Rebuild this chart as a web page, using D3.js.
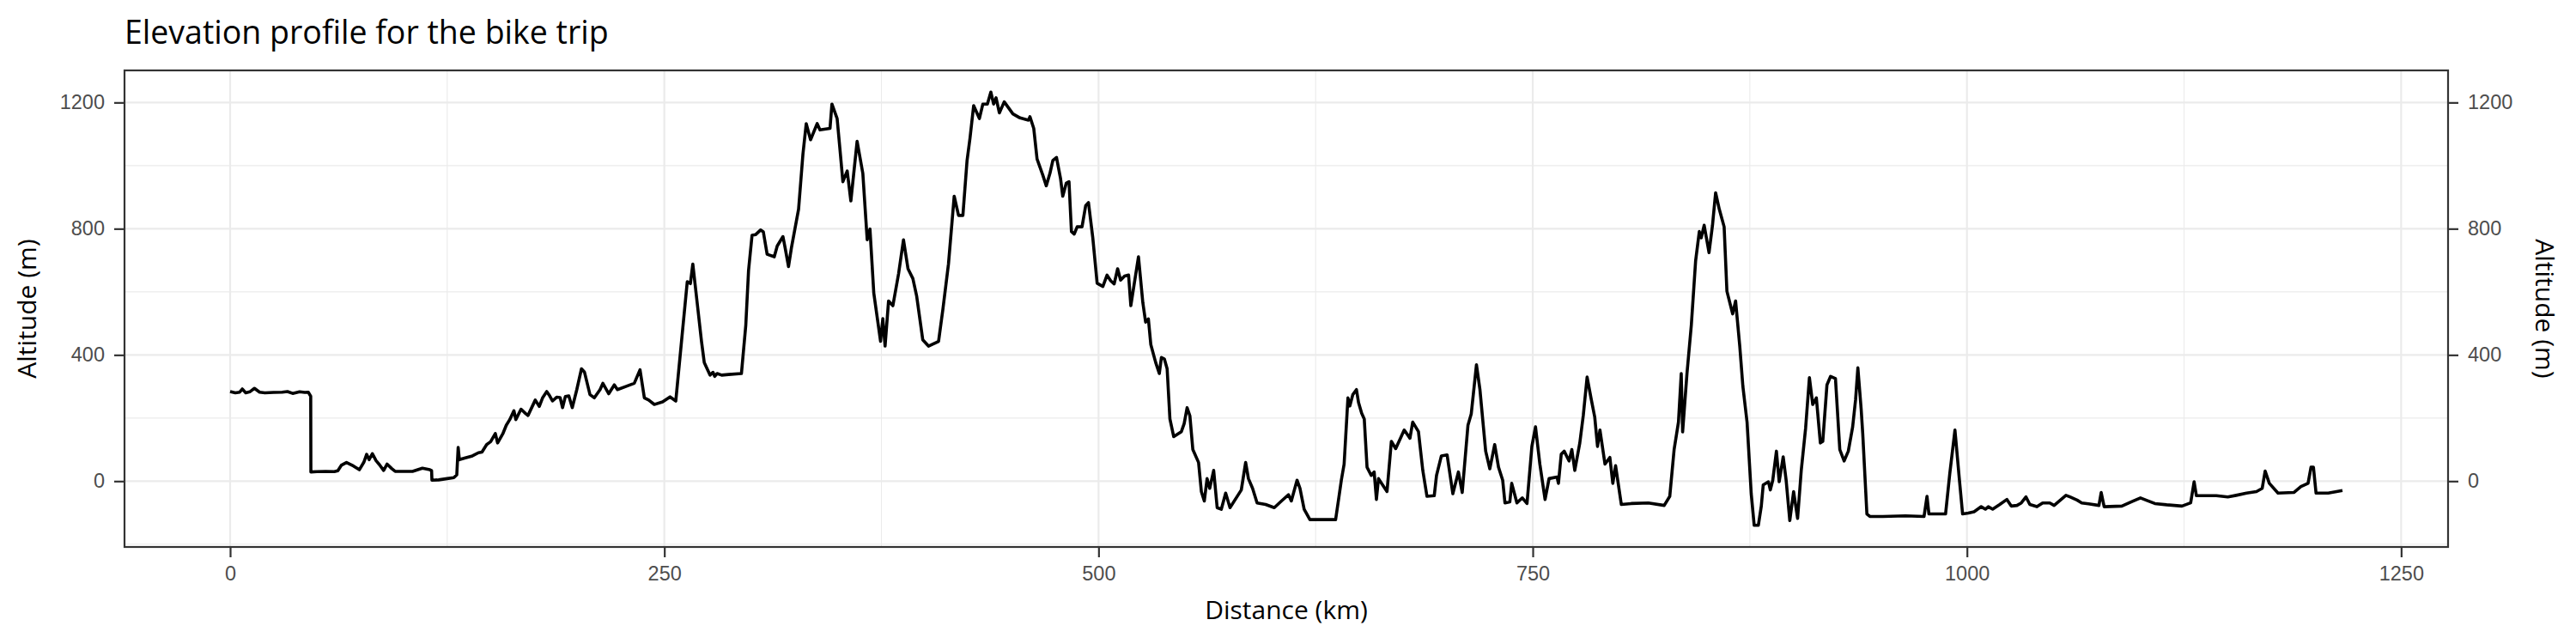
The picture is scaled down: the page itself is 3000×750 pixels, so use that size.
<!DOCTYPE html>
<html lang="en">
  <head>
    <meta charset="UTF-8" />
    <title>Elevation profile for the bike trip</title>
    <style>
      body {
        margin: 0;
        background: #fff;
        font-family: "Open Sans", sans-serif;
      }

      .grid-major line {
        stroke: #ebebeb;
        stroke-width: 2.2px;
      }

      .grid-minor line {
        stroke: #ebebeb;
        stroke-width: 1.1px;
      }

      .axis path {
        display: none;
      }

      .axis line {
        stroke: #333;
        stroke-width: 2.2px;
      }

      .axis text {
        fill: #4d4d4d;
        font-size: 23.5px;
      }

      .axis-title {
        font-size: 30px;
        fill: #000;
      }
    </style>
  </head>
  <body>
    <svg id="chart" width="3000" height="750"></svg>
    <script src="https://d3js.org/d3.v7.min.js"></script>
    <script>
      // distance along the trip (km) and altitude (m)
      const distance = [
        0, 3, 5.5, 7, 9, 11.3, 14, 17, 20, 25, 30, 33, 36, 40, 43, 45, 46.4, 46.5,
        50, 55, 60, 62, 64, 67, 71, 74.4, 77, 78.6, 80, 81.9, 84, 86, 88.4, 90.4,
        93, 95, 100, 105, 110.7, 115, 116, 116.2, 120, 125, 128.8, 130.5, 131.3,
        132, 135, 139.5, 143, 145, 147.7, 150, 152.7, 154, 157, 159, 161, 163.4,
        164.5, 167.5, 170, 171.5, 175.7, 178, 180, 182.3, 184, 185.6, 188, 190,
        191.4, 193, 195, 197, 199.6, 202.3, 204, 207.2, 209.7, 213, 214.6, 218,
        221.2, 223, 227.8, 232.7, 236, 238.5, 241, 244.2, 249, 253.3, 256.6,
        259.9, 263.2, 265, 266.4, 268.9, 271.4, 273, 276.3, 278, 279, 280.4, 283,
        287, 294.4, 296.9, 298.5, 300.5, 302.5, 305.4, 307, 309.2, 313.3, 315,
        318.3, 319.6, 321.5, 323.2, 327.3, 329.8, 331.7, 334.2, 338, 339.6, 345.4,
        346.5, 349.5, 351.2, 352.8, 355.3, 357.4, 361, 364.3, 366.8, 368.4, 370.6,
        374.5, 375.8, 377.1, 379.1, 381.6, 384.9, 387.7, 390.3, 393.1, 395.3,
        398.8, 402.1, 407.9, 410.4, 413.6, 416.9, 419.4, 421.9, 424.3, 426, 428.1,
        431.4, 433.4, 436, 438, 439.6, 441, 442.9, 445.7, 450.7, 454.8, 459.7,
        460.5, 462.7, 464.6, 467.9, 469.9, 472, 473.7, 475.8, 478.1, 479.4, 481.4,
        483, 484.4, 486, 487.7, 490.5, 492.6, 494.2, 496.7, 499.2, 502.5, 504.9,
        507, 509, 511, 512.7, 515, 517.3, 518.6, 520.6, 523, 525.5, 527.1, 528.7,
        530.1, 532.9, 535, 536.2, 537.9, 539.5, 541.1, 543.3, 547.7, 549.3, 551,
        552.6, 554.3, 557.6, 559.2, 560.9, 562.5, 564, 566.3, 568.3, 570.7, 573.2,
        575.7, 582.2, 584.7, 586.3, 588.7, 591.3, 596.2, 601.2, 605.3, 609.4, 611,
        614.3, 616, 618.4, 621.7, 636.5, 638.2, 639.8, 641.4, 643.6, 644.7, 646.4,
        648.5, 649.7, 651.5, 653, 654.6, 657, 658.7, 660, 661.2, 666.1, 668.6,
        671.1, 676, 679.3, 680.9, 684.2, 686.7, 689.1, 693.3, 694.6, 697.4, 700.7,
        704, 707.2, 709.4, 712.7, 714.6, 717.6, 719.6, 722.9, 725.3, 728.1, 730.3,
        732.7, 734, 736.8, 737.9, 740.9, 744, 746.7, 749.5, 751.6, 754.1, 757.1,
        759.4, 764, 764.8, 766.4, 768.1, 770.9, 772.5, 774.2, 777.1, 779.1, 781.3,
        783.7, 785.7, 787.3, 788.7, 791.6, 794.4, 796.1, 797.7, 801, 806.7, 816.6,
        825.7, 828.9, 831.4, 833.9, 835.5, 836.3, 838.8, 841.3, 843.8, 845.9, 847,
        848.7, 851.5, 853.5, 855.3, 857.4, 860.2, 861.8, 865.1, 866.8, 869.2, 871,
        873.4, 875.8, 877.5, 879.9, 881.6, 882.7, 885.7, 886.8, 888.2, 890.3,
        891.9, 894.2, 895.9, 898, 900.2, 902.5, 904.6, 907.1, 909.3, 911.2, 913.3,
        915.6, 917, 919.4, 921.5, 924.3, 926.8, 929.3, 931.7, 934.2, 935.9, 937.2,
        939.1, 940, 942.4, 944.1, 951.5, 964.6, 975.3, 977, 978.1, 987.7, 990.1,
        993.1, 995.6, 997.5, 1000.8, 1004.1, 1008.2, 1010.6, 1012.3, 1014.8,
        1018.9, 1023, 1025.5, 1028.8, 1031.3, 1034, 1036.2, 1040.3, 1043.6,
        1047.7, 1050.2, 1057, 1059.3, 1063.4, 1066.1, 1070, 1076, 1077.3, 1079,
        1089.2, 1095, 1099.9, 1104, 1108.2, 1115, 1123.8, 1128.8, 1130.8, 1132.1,
        1143.6, 1150.2, 1155, 1161, 1166.7, 1170, 1171.7, 1174.1, 1179.1, 1188.2,
        1192.3, 1196.4, 1198.1, 1199.5, 1201, 1208, 1216.2
      ];
      const altitude = [
        284, 280, 282, 292, 280, 283, 294, 282, 280, 281, 282, 284, 278, 283, 281,
        282, 269, 29, 30, 31, 30, 33, 50, 59, 48, 36, 60, 85, 68, 87, 65, 52, 34,
        54, 40, 31, 31, 31, 41, 36, 33, 3, 4, 8, 11, 20, 107, 68, 73, 80, 90, 92,
        116, 125, 151, 121, 150, 177, 195, 223, 195, 228, 215, 208, 257, 237, 265,
        284, 270, 254, 266, 265, 233, 268, 270, 233, 290, 356, 346, 274, 264, 290,
        310, 277, 305, 290, 300, 310, 353, 264, 257, 243, 251, 267, 254, 443, 632,
        626, 688, 566, 443, 376, 336, 345, 332, 341, 336, 338, 341, 494, 668, 779,
        781, 796, 790, 719, 711, 745, 775, 738, 680, 740, 862, 1036, 1133, 1082,
        1133, 1113, 1118, 1195, 1149, 1047, 949, 983, 888, 1077, 975, 765, 799,
        596, 443, 515, 428, 571, 556, 658, 765, 673, 642, 586, 448, 428, 443, 545,
        688, 903, 842, 842, 1016, 1087, 1190, 1149, 1195, 1195, 1233, 1195, 1215,
        1167, 1202, 1164, 1151, 1144, 1155, 1118, 1021, 970, 936, 975, 1016, 1026,
        960, 903, 944, 949, 791, 783, 806, 806, 873, 883, 771, 627, 617, 653, 635,
        625, 673, 637, 650, 653, 556, 627, 711, 566, 504, 514, 433, 376, 341, 392,
        387, 356, 197, 141, 157, 182, 233, 207, 100, 59, -33, -63, 8, -23, 34, -84,
        -89, -38, -84, -28, 59, 8, -23, -69, -74, -84, -63, -43, -63, 3, -23, -89,
        -122, -122, -58, 3, 54, 264, 238, 274, 290, 249, 215, 197, 44, 18, 29, -58,
        8, -33, 126, 103, 162, 136, 187, 157, 34, -48, -46, 18, 80, 83, -40, 29,
        -36, 177, 213, 369, 290, 95, 39, 116, 44, 3, -69, -66, -7, -69, -53, -71,
        110, 172, 54, -58, 8, 13, -7, 85, 95, 64, 100, 34, 121, 208, 330, 259, 203,
        110, 162, 54, 75, -7, 49, -74, -71, -69, -77, -48, 100, 187, 341, 156, 341,
        494, 699, 791, 771, 811, 724, 811, 914, 862, 806, 602, 530, 571, 428, 300,
        187, -40, -140, -140, -79, -12, -2, -28, 3, 95, -2, 77, 3, -125, -33, -118,
        34, 167, 328, 243, 264, 121, 126, 305, 332, 325, 100, 64, 95, 172, 259,
        359, 228, 151, -104, -112, -112, -110, -112, -48, -104, -104, 23, 162, 8,
        -104, -101, -97, -81, -89, -81, -89, -74, -58, -79, -77, -69, -50, -74,
        -81, -69, -69, -77, -45, -50, -60, -69, -72, -77, -36, -81, -79, -65, -53,
        -62, -71, -75, -79, -69, -2, -46, -46, -50, -45, -38, -33, -23, 32, -7,
        -38, -36, -17, -7, 44, 44, -38, -38, -30
      ];
      const xTicks = [0, 250, 500, 750, 1000, 1250];
      const xMinor = [125, 375, 625, 875, 1125];
      const yTicks = [0, 400, 800, 1200];
      const yMinor = [-200, 200, 600, 1000];

      const trip = distance.map((d, i) => ({ km: d, alt: altitude[i] }));

      const margin = { top: 82, right: 149, bottom: 113, left: 145 };
      const width = 3000 - margin.left - margin.right;
      const height = 750 - margin.top - margin.bottom;

      // ggplot-style 5% padding around the data
      function padded(ext) {
        const pad = (ext[1] - ext[0]) * 0.05;
        return [ext[0] - pad, ext[1] + pad];
      }

      const x = d3.scaleLinear()
        .domain(padded(d3.extent(distance)))
        .range([0, width]);
      const y = d3.scaleLinear()
        .domain(padded(d3.extent(altitude)))
        .range([height, 0]);

      const svg = d3.select('#chart');

      svg.append('text')
        .attr('x', margin.left)
        .attr('y', 51)
        .attr('font-size', 37.5)
        .attr('fill', '#000')
        .text('Elevation profile for the bike trip');

      const g = svg.append('g')
        .attr('transform', `translate(${margin.left},${margin.top})`);

      // minor grid first, major on top
      g.append('g').attr('class', 'grid-minor')
        .selectAll('line.v').data(xMinor).enter().append('line')
        .attr('x1', d => x(d)).attr('x2', d => x(d))
        .attr('y1', 0).attr('y2', height);
      g.append('g').attr('class', 'grid-minor')
        .selectAll('line.h').data(yMinor).enter().append('line')
        .attr('y1', d => y(d)).attr('y2', d => y(d))
        .attr('x1', 0).attr('x2', width);
      g.append('g').attr('class', 'grid-major')
        .selectAll('line').data(xTicks).enter().append('line')
        .attr('x1', d => x(d)).attr('x2', d => x(d))
        .attr('y1', 0).attr('y2', height);
      g.append('g').attr('class', 'grid-major')
        .selectAll('line').data(yTicks).enter().append('line')
        .attr('y1', d => y(d)).attr('y2', d => y(d))
        .attr('x1', 0).attr('x2', width);

      const line = d3.line()
        .x(d => x(d.km))
        .y(d => y(d.alt));

      g.append('path')
        .datum(trip)
        .attr('fill', 'none')
        .attr('stroke', '#000')
        .attr('stroke-width', 3.6)
        .attr('stroke-linejoin', 'round')
        .attr('d', line);

      g.append('rect')
        .attr('width', width)
        .attr('height', height)
        .attr('fill', 'none')
        .attr('stroke', '#333')
        .attr('stroke-width', 2.2);

      const fmt = d3.format('d');

      g.append('g').attr('class', 'axis')
        .attr('transform', `translate(0,${height})`)
        .call(d3.axisBottom(x).tickValues(xTicks).tickFormat(fmt).tickSize(12).tickPadding(10));

      g.append('g').attr('class', 'axis')
        .call(d3.axisLeft(y).tickValues(yTicks).tickFormat(fmt).tickSize(12).tickPadding(11));

      g.append('g').attr('class', 'axis')
        .attr('transform', `translate(${width},0)`)
        .call(d3.axisRight(y).tickValues(yTicks).tickFormat(fmt).tickSize(12).tickPadding(11));

      svg.append('text')
        .attr('class', 'axis-title')
        .attr('x', margin.left + width / 2)
        .attr('y', 721)
        .attr('text-anchor', 'middle')
        .text('Distance (km)');

      svg.append('text')
        .attr('class', 'axis-title')
        .attr('transform', `translate(42,${margin.top + height / 2}) rotate(-90)`)
        .attr('text-anchor', 'middle')
        .text('Altitude (m)');

      svg.append('text')
        .attr('class', 'axis-title')
        .attr('transform', `translate(2953,${margin.top + height / 2}) rotate(90)`)
        .attr('text-anchor', 'middle')
        .text('Altitude (m)');
    </script>
  </body>
</html>
